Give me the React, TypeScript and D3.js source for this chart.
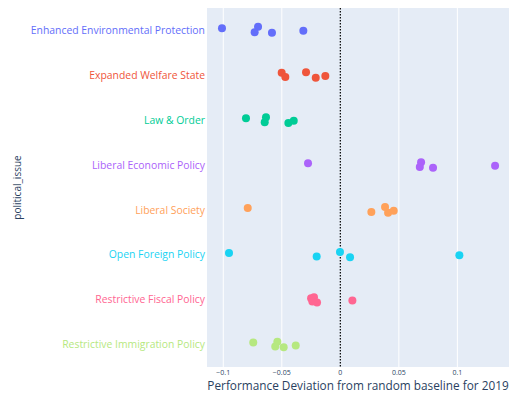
import React from "react";
import * as d3 from "d3";

const categories = [
  "Enhanced Environmental Protection",
  "Expanded Welfare State",
  "Law & Order",
  "Liberal Economic Policy",
  "Liberal Society",
  "Open Foreign Policy",
  "Restrictive Fiscal Policy",
  "Restrictive Immigration Policy",
];

const colors = ["#636efa", "#EF553B", "#00cc96", "#ab63fa", "#FFA15A", "#19d3f3", "#FF6692", "#B6E880"];

const values = [
  [-0.1011, -0.0703, -0.0732, -0.0584, -0.0316],
  [-0.0501, -0.0470, -0.0293, -0.0210, -0.0128],
  [-0.0806, -0.0635, -0.0646, -0.0444, -0.0398],
  [-0.0276, 0.0690, 0.0679, 0.0792, 0.1322],
  [-0.0791, 0.0265, 0.0382, 0.0408, 0.0456],
  [-0.0951, -0.0202, -0.0003, 0.0083, 0.1017],
  [-0.0250, -0.0225, -0.0239, -0.0199, 0.0103],
  [-0.0744, -0.0538, -0.0556, -0.0484, -0.0381],
];

// vertical strip jitter (category units)
const jitter = [
  [-0.047, -0.082, 0.042, 0.051, 0.007],
  [-0.058, 0.038, -0.067, 0.053, 0.016],
  [-0.042, -0.065, 0.047, 0.062, 0.011],
  [-0.040, -0.062, 0.042, 0.058, 0.013],
  [-0.045, 0.045, -0.067, 0.060, 0.016],
  [-0.042, 0.040, -0.065, 0.053, 0.009],
  [-0.033, -0.056, 0.042, 0.065, 0.020],
  [-0.045, -0.060, 0.045, 0.058, 0.022],
];

const xTicks = [-0.1, -0.05, 0, 0.05, 0.1];
const xTickLabels = ["\u22120.1", "\u22120.05", "0", "0.05", "0.1"];
const xDomain = [-0.1139, 0.1441];

const W = 509, H = 400;
const L = 207, R = 509, T = 8, B = 367;
const FONT = '"Open Sans", verdana, arial, sans-serif';

export default function App() {
  const x = d3.scaleLinear().domain(xDomain).range([L, R]);
  const yPos = d3.scaleLinear().domain([-0.5, categories.length - 0.5]).range([T, B]);

  return (
    <svg width={W} height={H} style={{ position: "absolute", left: 0, top: 0, background: "#fff" }} fontFamily={FONT}>
      <rect x={L} y={T} width={R - L} height={B - T} fill="#E5ECF6" />
      {xTicks.filter((t) => t !== 0).map((t) => (
        <line key={t} x1={x(t)} x2={x(t)} y1={T} y2={B} stroke="#fff" strokeWidth={1} />
      ))}
      <line x1={x(0)} x2={x(0)} y1={T} y2={B} stroke="#000" strokeWidth={1.2} strokeDasharray="1.5,1.5" />
      {values.map((row, ci) =>
        row.map((v, i) => (
          <circle
            key={ci + "-" + i}
            cx={x(v)}
            cy={yPos(ci + jitter[ci][i])}
            r={4}
            fill={colors[ci]}
          />
        ))
      )}
      {categories.map((c, ci) => (
        <text key={c} x={205} y={yPos(ci)} dy="0.35em" textAnchor="end" fontSize={10.4} fill={colors[ci]}>
          {c}
        </text>
      ))}
      {xTicks.map((t, i) => (
        <text key={t} x={x(t)} y={375} textAnchor="middle" fontSize={7} fill="#2a3f5f">
          {xTickLabels[i]}
        </text>
      ))}
      <text x={(L + R) / 2} y={390} textAnchor="middle" fontSize={11.8} fill="#2a3f5f">
        Performance Deviation from random baseline for 2019
      </text>
      <text
        transform={`translate(21,${(T + B) / 2}) rotate(-90)`}
        textAnchor="middle"
        fontSize={10}
        fill="#2a3f5f"
      >
        political_issue
      </text>
    </svg>
  );
}
